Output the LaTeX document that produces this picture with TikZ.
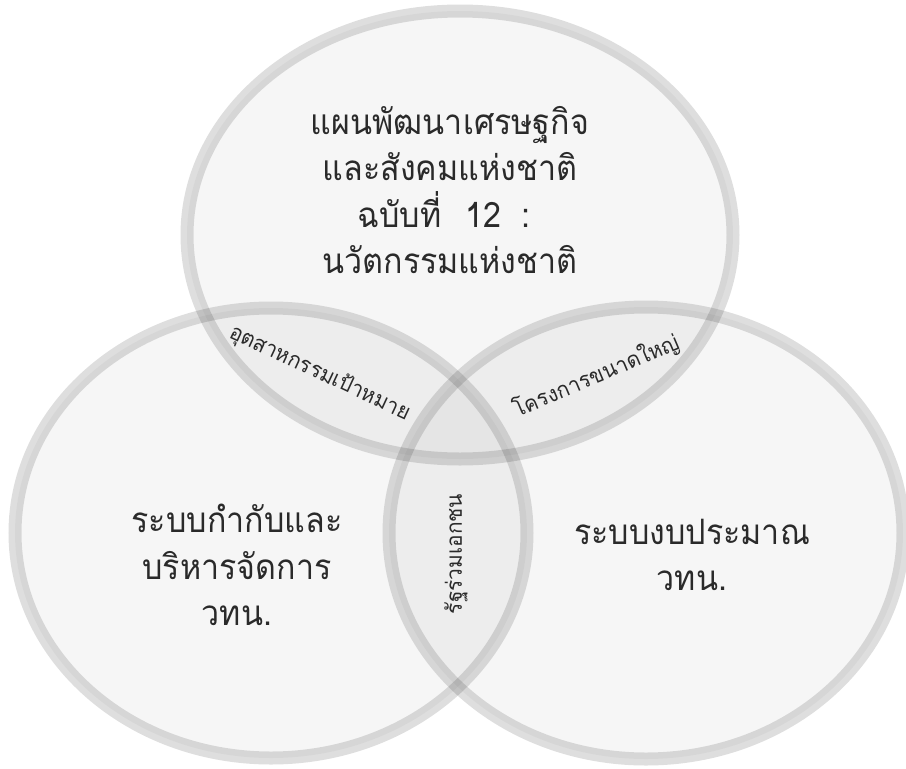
\documentclass[tikz,border=0pt]{standalone}
\usepackage{fontspec}
\newfontfamily\thaifont[Script=Thai,FakeStretch=0.92]{Loma}
\newfontfamily\thaismall[Script=Thai,FakeStretch=0.95]{Loma}
\definecolor{txt}{HTML}{2A2A2A}
\tikzset{
  venn/.style={fill=black, fill opacity=0.035, draw=black, draw opacity=0.13, line width=13pt},
  bigtxt/.style={font=\thaifont\fontsize{35}{46.5}\selectfont, text=txt, align=center, inner sep=0pt},
  smalltxt/.style={font=\thaismall\fontsize{22}{26}\selectfont, text=txt, inner sep=0pt}
}
\begin{document}
\begin{tikzpicture}[x=1pt,y=-1pt]
\useasboundingbox (0,0) rectangle (906,769);
\begin{scope}
\clip (0,0) rectangle (906,769);
\draw[venn] (460,235) ellipse [x radius=273pt, y radius=224pt];
\draw[venn] (271,533) ellipse [x radius=256pt, y radius=225pt];
\draw[venn] (646,533) ellipse [x radius=257pt, y radius=226pt];
\end{scope}
\node[bigtxt] (plan) at (450,190) {แผนพัฒนาเศรษฐกิจ\\และสังคมแห่งชาติ\\\hspace*{-12pt}ฉบับที่\hspace{24pt}12\hspace{20pt}:\\นวัตกรรมแห่งชาติ};
\node[bigtxt] (reg) at (237,565) {ระบบกำกับและ\\บริหารจัดการ\\วทน.};
\node[bigtxt] (bud) at (692,555) {ระบบงบประมาณ\\วทน.};
\node[smalltxt, rotate=-25] (ind) at (320,373) {อุตสาหกรรมเป้าหมาย};
\node[smalltxt, rotate=23] (proj) at (596,376) {โครงการขนาดใหญ่};
\node[smalltxt, rotate=90] (ppp) at (456,554) {รัฐร่วมเอกชน};
\end{tikzpicture}
\end{document}
